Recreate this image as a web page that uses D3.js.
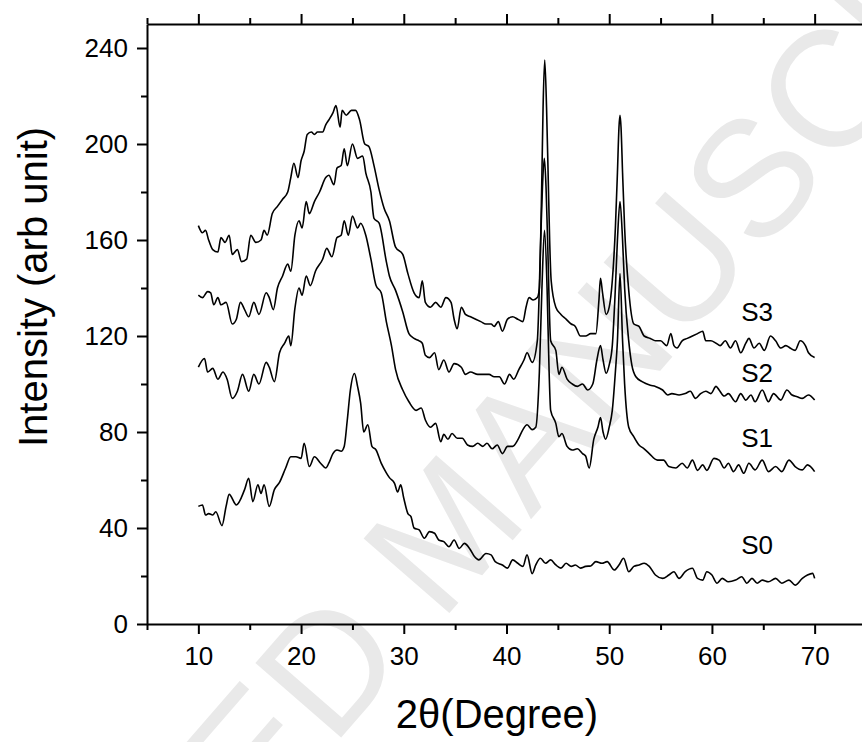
<!DOCTYPE html>
<html>
<head>
<meta charset="utf-8">
<script src="https://cdn.jsdelivr.net/npm/d3@7"></script>
<style>
  body { margin: 0; background: #fff; }
  svg { display: block; font-family: "Liberation Sans", Arial, sans-serif; }
</style>
</head>
<body>
<div id="chart"></div>
<script>
// XRD patterns, [2theta, intensity]
const s3 = [[10.0,166],[10.4,163],[10.7,164],[11.0,160],[11.4,156],[11.9,155],[12.2,161],[12.6,159],[13.0,162],[13.3,154],[13.8,156],[14.2,151],[14.7,152],[15.1,162],[15.6,159],[16.1,160],[16.4,164],[16.7,162],[17.2,171],[17.7,174],[18.2,177],[18.7,180],[19.0,186],[19.3,192],[19.7,186],[20.0,193],[20.3,197],[20.6,204],[21.0,205],[21.3,204],[21.6,205],[22.1,205],[22.4,208],[22.7,210],[23.1,213],[23.4,216],[23.8,207],[24.0,214],[24.4,212],[24.9,214],[25.3,214],[25.7,210],[26.2,200],[26.6,199],[27.1,191],[27.6,181],[28.1,173],[28.6,168],[29.2,157],[29.9,154],[30.4,146],[31.0,138],[31.5,136],[31.8,143],[32.1,134],[32.6,132],[33.1,134],[33.6,132],[34.1,136],[34.6,134],[34.9,127],[35.2,123],[35.6,132],[36.0,129],[36.5,128],[37.0,127],[37.5,126],[38.0,125],[38.5,125],[38.8,124],[39.2,126],[39.6,122],[40.1,127],[40.6,128],[41.1,127],[41.6,126],[41.9,132],[42.2,136],[42.6,135],[43.0,136],[43.2,140],[43.35,165],[43.45,188],[43.56,215],[43.72,235],[43.9,215],[44.05,188],[44.2,160],[44.35,143],[44.8,132],[45.3,129],[45.8,127],[46.3,125],[46.7,124],[47.2,120],[47.7,120],[48.2,121],[48.7,121],[49.0,135],[49.15,144],[49.35,138],[49.7,129],[50.0,132],[50.3,143],[50.6,165],[50.8,188],[50.95,207],[51.05,212],[51.15,207],[51.3,188],[51.5,165],[51.9,139],[52.4,125],[52.9,124],[53.4,120],[54.0,119],[54.5,118],[55.0,118],[55.6,116],[56.0,121],[56.3,116],[56.6,115],[57.1,118],[57.6,119],[58.1,120],[58.6,121],[59.1,122],[59.4,118],[59.9,118],[60.4,117],[60.8,116],[61.3,118],[61.8,115],[62.3,118],[62.8,113],[63.3,117],[63.6,119],[64.1,115],[64.6,117],[65.1,114],[65.7,120],[66.2,118],[66.7,115],[67.2,116],[67.6,115],[68.1,114],[68.6,118],[69.1,116],[69.4,113],[70.0,111]];

const s2 = [[10.0,137],[10.4,136],[10.9,138.5],[11.2,138],[11.5,133],[11.9,136],[12.2,133],[12.7,134],[13.3,125],[13.7,127],[14.1,134],[14.5,131],[14.9,128],[15.4,134],[15.9,129],[16.6,138],[16.9,136],[17.3,131],[17.7,140],[18.2,145],[18.7,150],[19.0,147],[19.4,162],[19.8,168],[20.1,165],[20.5,176],[20.8,171],[21.3,176],[21.8,180],[22.4,186],[22.7,187],[23.2,183],[23.5,190],[23.9,191],[24.2,198],[24.5,191],[25.0,200],[25.5,194],[26.0,195],[26.3,188],[26.8,180],[27.1,169],[27.6,167],[28.3,151],[28.6,145],[29.2,139],[29.9,130],[30.5,121],[31.0,119],[31.5,118],[31.8,117],[32.1,112],[32.5,111],[33.0,113],[33.4,106],[33.9,110],[34.4,105],[34.9,108.5],[35.6,107],[36.0,104],[36.5,105],[37.2,104],[37.8,104],[38.3,104],[38.8,103],[39.3,103],[39.8,100],[40.3,104],[40.7,102],[41.2,106],[41.7,110],[42.0,113],[42.5,109],[43.0,118],[43.33,160],[43.5,182],[43.68,194],[43.85,182],[44.0,160],[44.3,118],[44.8,114],[45.1,104],[45.4,107],[45.9,102],[46.4,100],[46.9,99],[47.4,100],[47.9,97.5],[48.4,100],[48.8,110],[49.15,116],[49.4,110],[49.7,104.5],[50.0,108],[50.3,116],[50.6,140],[50.8,160],[51.05,176],[51.3,160],[51.5,140],[51.9,118],[52.2,108],[52.6,103],[53.2,101],[54.0,99.5],[54.5,99],[55.2,97.5],[55.7,95.4],[56.1,96],[56.8,95.4],[57.4,96],[57.9,97],[58.4,94],[58.9,96],[59.4,97],[59.9,96],[60.4,99],[60.7,97.5],[61.2,95],[61.6,96],[62.3,92.6],[62.8,96],[63.3,93.3],[63.8,95.4],[64.2,92.6],[64.9,97.5],[65.5,92.6],[66.0,96],[66.7,93.3],[67.3,97.5],[67.8,95.4],[68.3,94.7],[68.8,94],[69.4,95.4],[70.0,93.3]];

const s1 = [[10.0,107],[10.6,110.6],[10.9,105],[11.4,106.5],[11.9,102],[12.4,105],[12.8,102],[13.3,94],[13.8,97],[14.3,104],[14.9,97],[15.4,104],[15.9,100],[16.6,109],[16.9,107],[17.4,101],[17.9,113],[18.4,117],[18.8,120],[19.0,116],[19.4,131.5],[19.8,140],[20.1,137],[20.5,145],[20.9,141],[21.4,147],[22.1,152],[22.5,156.5],[23.0,153],[23.5,161],[23.9,162],[24.2,168],[24.6,162],[25.0,170],[25.5,165],[25.8,167],[26.3,162],[26.8,152],[27.3,141],[27.8,138],[28.3,126],[28.8,116],[29.2,106],[29.9,97.5],[30.5,92.6],[31.2,89],[31.7,90],[32.1,85],[32.6,82],[33.1,83.6],[33.6,76],[33.9,79],[34.3,77],[34.7,79.4],[35.2,77.4],[35.7,77.4],[36.2,74.6],[36.7,74],[37.2,75.3],[37.7,74],[38.1,75.3],[38.6,73],[39.1,74.6],[39.6,71],[40.1,74],[40.6,74],[41.1,76.7],[41.6,81],[42.0,83],[42.5,81],[42.85,82],[43.2,105],[43.45,140],[43.7,164],[43.95,140],[44.15,105],[44.3,89],[44.8,83.6],[45.1,78],[45.4,79.4],[45.9,74],[46.4,72.5],[46.9,73],[47.4,71],[47.7,70],[48.05,65],[48.5,77],[48.9,82],[49.15,86],[49.4,80],[49.65,77],[50.0,82],[50.3,89],[50.6,105],[50.8,118],[51.05,146],[51.3,118],[51.5,100],[51.9,82],[52.4,78],[52.9,74.6],[53.4,73],[53.9,71],[54.7,68.3],[55.3,68.3],[55.8,65.6],[56.5,65],[57.1,67],[57.6,65],[58.1,68.3],[58.6,64],[59.1,66.3],[59.5,64],[60.2,69],[60.7,68.3],[61.2,65],[61.6,67],[62.1,63.5],[62.6,66.3],[63.1,62.8],[63.6,67],[64.2,64.2],[64.9,68.3],[65.5,63.5],[66.2,65.6],[66.8,63.5],[67.5,68.3],[68.1,65.6],[68.8,64.2],[69.3,66.3],[70.0,63.5]];

const s0 = [[10.0,49],[10.4,49.6],[10.7,45.4],[11.0,46],[11.4,45.4],[11.7,46.8],[12.3,41],[12.7,49],[13.0,54],[13.7,49.6],[14.5,56],[14.9,60.7],[15.3,51],[15.8,58],[16.1,54.4],[16.4,58],[16.9,49],[17.4,56],[17.9,59],[18.5,65],[19.0,69.7],[19.5,69.7],[20.0,69],[20.3,75.3],[20.8,65.6],[21.3,69.7],[21.9,67],[22.4,65],[22.7,67],[23.1,71],[23.5,72.5],[23.9,72],[24.2,74],[24.5,85],[24.8,97.5],[25.2,104.4],[25.5,99],[25.8,92],[26.1,80],[26.5,83],[26.9,74],[27.3,72.5],[27.8,67],[28.3,63],[28.6,61],[29.1,58.6],[29.4,55],[29.7,58],[30.0,52.4],[30.4,46],[30.7,44.7],[31.0,40],[31.5,39.2],[32.0,35.7],[32.5,38.5],[33.0,37.8],[33.4,35],[33.9,34.3],[34.4,32.2],[34.9,35],[35.4,31.5],[35.9,33.6],[36.4,31.5],[36.9,28],[37.3,26.7],[38.0,29.4],[38.5,28.8],[38.9,26],[39.6,24.6],[40.1,23.3],[40.6,26.7],[41.1,25.3],[41.6,24],[42.0,28.8],[42.5,21],[42.85,24.6],[43.3,27.4],[43.8,25.3],[44.3,26.7],[44.8,24.6],[45.3,23.3],[45.8,25.3],[46.3,24],[46.7,24.6],[47.2,23.3],[47.7,24],[48.2,24.2],[48.7,26],[49.3,25.3],[49.8,26],[50.5,22.5],[50.95,24.6],[51.4,27.4],[51.9,21.8],[52.4,24],[52.9,24.6],[53.4,25.3],[53.9,24],[54.5,20.4],[55.2,19],[55.8,20.4],[56.3,21.8],[56.8,19],[57.4,21.8],[58.1,23.2],[58.6,19],[59.1,18.3],[59.5,21.8],[60.0,20.4],[60.5,17],[61.0,19],[61.6,17.6],[62.3,18.3],[62.9,19.7],[63.4,17],[63.9,19],[64.4,17],[64.9,18.3],[65.5,17.6],[66.2,19],[66.8,17],[67.5,18.3],[68.1,16.2],[68.8,19],[69.3,20.4],[69.8,21.1],[70.0,19]];

const seriesNames = ["S0", "S1", "S2", "S3"];
const labelPos = [[64.4, 33], [64.4, 77.5], [64.4, 104.5], [64.4, 130]];

const xMajor = [10, 20, 30, 40, 50, 60, 70];
const xMinor = [5, 15, 25, 35, 45, 55, 65, 75];
const yMajor = [0, 40, 80, 120, 160, 200, 240];
const yMinor = [20, 60, 100, 140, 180, 220];

const width = 862, height = 742;
const margin = { top: 24, right: -4, bottom: 118, left: 147 };

const svg = d3.select("#chart").append("svg")
    .attr("width", width)
    .attr("height", height);

const x = d3.scaleLinear().domain([5, 75]).range([margin.left, width - margin.right]);
const y = d3.scaleLinear().domain([0, 250]).range([height - margin.bottom, margin.top]);

// Watermark (runs off the page in the original too)
svg.append("text")
    .attr("transform", "translate(445,530) rotate(-49)")
    .attr("text-anchor", "middle")
    .attr("dy", "0.35em")
    .style("font-size", "165px")
    .style("fill", "#e9e9e9")
    .text("ACCEPTED MANUSCRIPT");

// Axes
function styleAxis(g) {
    g.selectAll("path.domain").attr("stroke", "#000").attr("stroke-width", 2);
    g.selectAll(".tick line").attr("stroke", "#000").attr("stroke-width", 2);
    g.selectAll(".tick text").style("font-size", "26px").attr("fill", "#000");
}

const x0 = y(0), yTop = y(250);

svg.append("g").attr("transform", `translate(0,${x0})`)
    .call(d3.axisBottom(x).tickValues(xMinor).tickSize(6).tickSizeOuter(0).tickFormat(""))
    .call(styleAxis);
svg.append("g").attr("transform", `translate(0,${x0})`)
    .call(d3.axisBottom(x).tickValues(xMajor).tickSize(10).tickSizeOuter(0).tickPadding(13))
    .call(styleAxis)
    .call(g => g.select("path.domain").remove());

svg.append("g").attr("transform", `translate(0,${yTop})`)
    .call(d3.axisTop(x).tickValues(xMinor).tickSize(6).tickSizeOuter(0).tickFormat(""))
    .call(styleAxis);
svg.append("g").attr("transform", `translate(0,${yTop})`)
    .call(d3.axisTop(x).tickValues(xMajor).tickSize(10).tickSizeOuter(0).tickFormat(""))
    .call(styleAxis)
    .call(g => g.select("path.domain").remove());

svg.append("g").attr("transform", `translate(${margin.left},0)`)
    .call(d3.axisLeft(y).tickValues(yMinor).tickSize(6).tickSizeOuter(0).tickFormat(""))
    .call(styleAxis);
svg.append("g").attr("transform", `translate(${margin.left},0)`)
    .call(d3.axisLeft(y).tickValues(yMajor).tickSize(10).tickSizeOuter(0).tickPadding(9))
    .call(styleAxis)
    .call(g => g.select("path.domain").remove());

// Curves
const line = d3.line()
    .x(d => x(d[0]))
    .y(d => y(d[1]))
    .curve(d3.curveMonotoneX);

svg.append("g")
    .selectAll("path")
    .data([s0, s1, s2, s3])
    .join("path")
    .attr("d", line)
    .attr("fill", "none")
    .attr("stroke", "#000")
    .attr("stroke-width", 1.6)
    .attr("stroke-linejoin", "round");

// Series labels
svg.append("g")
    .selectAll("text")
    .data(seriesNames)
    .join("text")
    .attr("x", (d, i) => x(labelPos[i][0]))
    .attr("y", (d, i) => y(labelPos[i][1]))
    .attr("dy", "0.35em")
    .attr("text-anchor", "middle")
    .style("font-size", "26px")
    .text(d => d);

// Axis titles
svg.append("text")
    .attr("transform", `translate(47,${287}) rotate(-90)`)
    .attr("text-anchor", "middle")
    .style("font-size", "40px")
    .text("Intensity (arb unit)");

svg.append("text")
    .attr("x", 497)
    .attr("y", 728)
    .attr("text-anchor", "middle")
    .style("font-size", "40px")
    .text("2θ(Degree)");
</script>
</body>
</html>
